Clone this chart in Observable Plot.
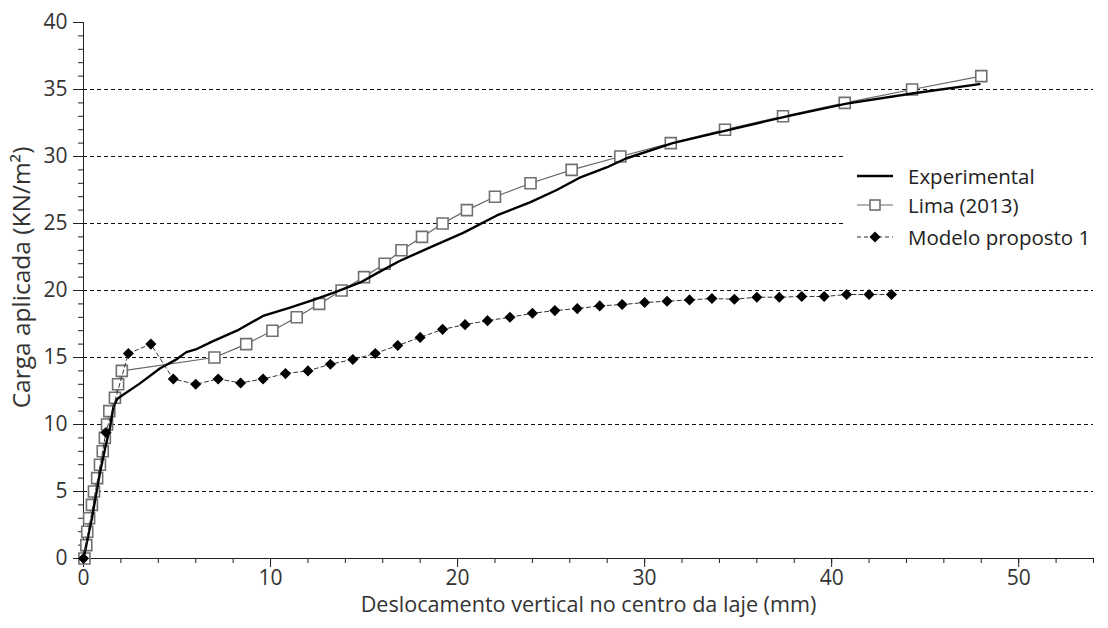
<!DOCTYPE html>
<html><head><meta charset="utf-8">
<script src="https://cdn.jsdelivr.net/npm/d3@7"></script>
<script src="https://cdn.jsdelivr.net/npm/@observablehq/plot@0.6"></script>
<style>
html,body{margin:0;padding:0;background:#fff;}
#wrap{position:relative;width:1108px;height:628px;}
#legend{position:absolute;left:846px;top:150px;width:260px;height:102px;background:#fff;font-family:"Open Sans";font-size:20.5px;color:#222;}
.item{position:absolute;left:10px;height:30px;display:flex;align-items:center;white-space:nowrap;}
.item svg{margin-right:14px;}
</style>
</head><body><div id="wrap"></div>
<script>
// Experimental (solid black)
const expX = [0, 0.45, 0.88, 1.2, 1.42, 1.6, 1.8, 2.1, 3.0, 4.1, 4.9, 5.5, 6.0, 6.9, 8.2, 9.6, 11.0, 12.3, 13.5, 14.8, 15.7, 16.9, 18.5, 20.3, 22.1, 23.9, 25.3, 26.5, 28.0, 29.0, 31.5, 34.4, 37.6, 40.8, 44.3, 47.9];
const expY = [0, 3.0, 6.4, 8.5, 9.8, 11.3, 11.9, 12.2, 13.05, 14.2, 14.8, 15.4, 15.6, 16.2, 17.0, 18.1, 18.7, 19.3, 19.9, 20.6, 21.3, 22.2, 23.2, 24.3, 25.6, 26.6, 27.5, 28.4, 29.2, 29.85, 31.0, 31.95, 33.0, 33.95, 34.7, 35.4];
// Lima (2013) (grey, hollow squares)
const limaX = [0.05, 0.15, 0.2, 0.3, 0.45, 0.56, 0.73, 0.88, 1.03, 1.14, 1.26, 1.38, 1.68, 1.85, 2.05, 7.0, 8.7, 10.1, 11.4, 12.6, 13.8, 15.0, 16.1, 17.0, 18.1, 19.2, 20.5, 22.0, 23.9, 26.1, 28.7, 31.4, 34.3, 37.4, 40.7, 44.3, 48.0];
const limaY = [0, 1, 2, 3, 4, 5, 6, 7, 8, 9, 10, 11, 12, 13, 14, 15, 16, 17, 18, 19, 20, 21, 22, 23, 24, 25, 26, 27, 28, 29, 30, 31, 32, 33, 34, 35, 36];
// Modelo proposto 1 (dashed, black diamonds)
const modX = [0, 1.2, 2.4, 3.6, 4.8, 6.0, 7.2, 8.4, 9.6, 10.8, 12.0, 13.2, 14.4, 15.6, 16.8, 18.0, 19.2, 20.4, 21.6, 22.8, 24.0, 25.2, 26.4, 27.6, 28.8, 30.0, 31.2, 32.4, 33.6, 34.8, 36.0, 37.2, 38.4, 39.6, 40.8, 42.0, 43.2];
const modY = [0, 9.4, 15.3, 16.0, 13.4, 13.0, 13.4, 13.1, 13.4, 13.8, 14.0, 14.5, 14.85, 15.3, 15.9, 16.5, 17.1, 17.45, 17.75, 18.0, 18.3, 18.5, 18.65, 18.85, 18.95, 19.1, 19.2, 19.3, 19.4, 19.35, 19.5, 19.5, 19.55, 19.55, 19.7, 19.7, 19.7];

const gridValues = [5, 10, 15, 20, 25, 30, 35];
const xTicks = [0, 10, 20, 30, 40, 50];
const yTicks = [0, 5, 10, 15, 20, 25, 30, 35, 40];
const xMinor = [0, 2, 4, 6, 8, 10, 12, 14, 16, 18, 20, 22, 24, 26, 28, 30, 32, 34, 36, 38, 40, 42, 44, 46, 48, 50, 52, 54];
const yMinor = [0,1,2,3,4,5,6,7,8,9,10,11,12,13,14,15,16,17,18,19,20,21,22,23,24,25,26,27,28,29,30,31,32,33,34,35,36,37,38,39,40];
const seriesNames = ["Experimental", "Lima (2013)", "Modelo proposto 1"];
const xTitle = "Deslocamento vertical no centro da laje (mm)";
const yTitle = "Carga aplicada (KN/m²)";

const expData = expX.map((x, i) => ({x, y: expY[i]}));
const limaData = limaX.map((x, i) => ({x, y: limaY[i]}));
const modData = modX.map((x, i) => ({x, y: modY[i]}));

const plot = Plot.plot({
  width: 1108, height: 628,
  marginLeft: 83, marginRight: 15, marginTop: 22, marginBottom: 70,
  x: {domain: [0, 54]},
  y: {domain: [0, 40]},
  style: {fontFamily: "Open Sans", fontSize: "21px", color: "#333", background: "#fff"},
  marks: [
    Plot.ruleY(gridValues, {stroke: "#111", strokeWidth: 1, strokeDasharray: "4,3"}),
    Plot.axisY(yMinor, {tickSize: 5, tickFormat: () => "", label: null, stroke: "#222"}),
    Plot.axisY(yTicks, {tickSize: 10, tickPadding: 6, stroke: "#222", label: null, fontSize: 21}),
    Plot.axisX(xMinor, {tickSize: 5, tickFormat: () => "", label: null, stroke: "#222"}),
    Plot.axisX(xTicks, {tickSize: 9, tickPadding: 3, stroke: "#222", label: null, fontSize: 21}),
    Plot.text([xTitle], {frameAnchor: "bottom", dy: 47, text: d => d, fontSize: 21.6, fill: "#333", textAnchor: "middle", lineAnchor: "middle"}),
    Plot.text([yTitle], {frameAnchor: "left", dx: -61, dy: -13, rotate: -90, text: d => d, fontSize: 24.5, fill: "#333", textAnchor: "middle", lineAnchor: "middle"}),
    Plot.ruleX([0], {stroke: "#222"}),
    Plot.ruleY([0], {stroke: "#222"}),
    Plot.line(limaData, {x: "x", y: "y", stroke: "#666", strokeWidth: 1.2}),
    Plot.dot(limaData, {x: "x", y: "y", symbol: "square2", r: 7, stroke: "#707070", strokeWidth: 1.6, fill: "white"}),
    Plot.line(expData, {x: "x", y: "y", stroke: "#000", strokeWidth: 2.4}),
    Plot.line(modData, {x: "x", y: "y", stroke: "#333", strokeWidth: 1, strokeDasharray: "4,3"}),
    Plot.dot(modData, {x: "x", y: "y", symbol: "diamond2", r: 5, fill: "#000", stroke: "none"})
  ]
});

const wrap = document.getElementById("wrap");
wrap.appendChild(plot);

const legend = document.createElement("div");
legend.id = "legend";
const swatches = [
  '<svg width="38" height="14"><line x1="1" y1="7" x2="37" y2="7" stroke="#000" stroke-width="2.4"/></svg>',
  '<svg width="38" height="14"><line x1="1" y1="7" x2="37" y2="7" stroke="#666" stroke-width="1.2"/><rect x="14" y="2" width="10" height="10" fill="#fff" stroke="#707070" stroke-width="1.6"/></svg>',
  '<svg width="38" height="14"><line x1="1" y1="7" x2="37" y2="7" stroke="#333" stroke-width="1" stroke-dasharray="4,3"/><path d="M19,1.5L24.5,7L19,12.5L13.5,7Z" fill="#000"/></svg>'
];
const tops = [11, 40, 72];
seriesNames.forEach((name, i) => {
  const it = document.createElement("div");
  it.className = "item";
  it.style.top = tops[i] + "px";
  it.innerHTML = swatches[i] + "<span>" + name + "</span>";
  legend.appendChild(it);
});
wrap.appendChild(legend);
</script>
</body></html>
